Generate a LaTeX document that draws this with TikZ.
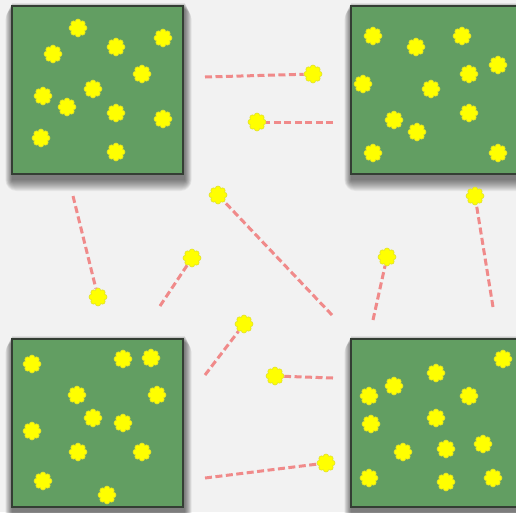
\documentclass[tikz,border=0pt]{standalone}
\usetikzlibrary{shapes.symbols}
\definecolor{bgcol}{RGB}{242,242,242}
\definecolor{fieldcol}{RGB}{98,158,98}
\definecolor{edgecol}{RGB}{52,62,52}
\definecolor{dotcol}{RGB}{255,255,0}
\definecolor{dotedge}{RGB}{225,225,40}
\definecolor{linkcol}{RGB}{240,138,138}
\tikzset{
  field/.style={draw=edgecol, line width=2pt, fill=fieldcol,
    minimum width=171pt, minimum height=168pt, inner sep=0pt},
  blob/.style={cloud, cloud puffs=8, cloud puff arc=165, aspect=1,
    fill=dotcol, draw=dotedge, line width=0.6pt,
    minimum width=18pt, minimum height=18pt, inner sep=0pt},
  link/.style={draw=linkcol, line width=3pt, dash pattern=on 7pt off 3.5pt}
}
% soft drop shadow under a field: stacked translucent layers
\newcommand\fieldshadow[1]{%
  \foreach \k in {0,...,11}
    \fill[black, opacity=0.05, rounded corners=\k pt]
      ([shift={(-0.6*\k pt+1pt,-0.5*\k pt+2pt)}]#1.north west)
      rectangle ([shift={(0.6*\k pt+1pt,-\k pt-5pt)}]#1.south east);%
}
\begin{document}
\begin{tikzpicture}[x=1pt, y=-1pt]
  \fill[bgcol] (0,0) rectangle (516,512);
  \useasboundingbox (0,0) rectangle (516,512);
  \clip (0,0) rectangle (516,512);

  % four field positions
  \coordinate (cTL) at (97.5,90);
  \coordinate (cTR) at (436.5,90);
  \coordinate (cBL) at (97.5,423);
  \coordinate (cBR) at (436.5,423);
  \foreach \c in {TL,TR,BL,BR}
    \path (c\c) node[field, draw=none, fill=none] (s\c) {};
  \foreach \c in {TL,TR,BL,BR}
    \fieldshadow{s\c}
  \node[field] (fTL) at (cTL) {};
  \node[field] (fTR) at (cTR) {};
  \node[field] (fBL) at (cBL) {};
  \node[field] (fBR) at (cBR) {};

  % particles inside the top-left field
  \foreach \x/\y [count=\i] in {78/28,163/38,53/54,116/47,142/74,43/96,
      93/89,67/107,116/113,163/119,41/138,116/152}
    \node[blob] (a\i) at (\x,\y) {};
  % particles inside the top-right field
  \foreach \x/\y [count=\i] in {373/36,416/47,462/36,498/65,469/74,363/84,
      431/89,394/120,417/132,469/113,373/153,498/153}
    \node[blob] (b\i) at (\x,\y) {};
  % particles inside the bottom-left field
  \foreach \x/\y [count=\i] in {32/364,123/359,151/358,77/395,157/395,93/418,
      123/423,32/431,78/452,142/452,43/481,107/495}
    \node[blob] (c\i) at (\x,\y) {};
  % particles inside the bottom-right field
  \foreach \x/\y [count=\i] in {503/359,436/373,394/386,369/396,469/396,
      371/424,436/418,403/452,446/449,483/444,369/478,446/482,493/478}
    \node[blob] (d\i) at (\x,\y) {};

  % free particles between the fields, each with its trail
  \coordinate (t1) at (205,77);
  \coordinate (t2) at (333,122);
  \coordinate (t3) at (73,196);
  \coordinate (t4) at (160,306);
  \coordinate (t5) at (332,315);
  \coordinate (t6) at (373,320);
  \coordinate (t7) at (493,307);
  \coordinate (t8) at (205,375);
  \coordinate (t9) at (333,378);
  \coordinate (t10) at (205,478);

  \node[blob] (p1) at (313,74) {};
  \node[blob] (p2) at (257,122) {};
  \node[blob] (p3) at (98,297) {};
  \node[blob] (p4) at (192,258) {};
  \node[blob] (p5) at (218,195) {};
  \node[blob] (p6) at (387,257) {};
  \node[blob] (p7) at (475,196) {};
  \node[blob] (p8) at (244,324) {};
  \node[blob] (p9) at (275,376) {};
  \node[blob] (p10) at (326,463) {};

  \foreach \i in {1,...,10}
    \draw[link] (t\i) -- (p\i);
\end{tikzpicture}
\end{document}
